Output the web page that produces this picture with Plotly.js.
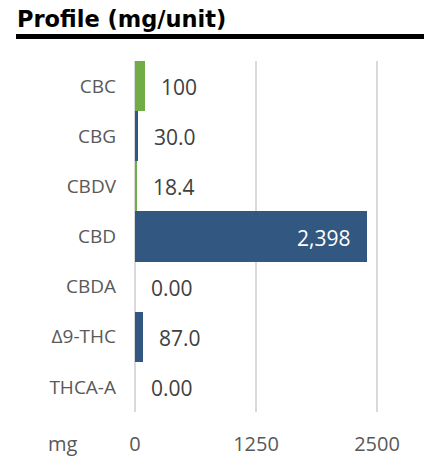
<!DOCTYPE html>
<html>
<head>
<meta charset="utf-8">
<script src="https://cdn.plot.ly/plotly-3.0.1.min.js"></script>
<style>html,body{margin:0;padding:0;background:#fff;}#chart{width:430px;height:457px;}</style>
</head>
<body>
<div id="chart"></div>
<script>
const categories = ["CBC", "CBG", "CBDV", "CBD", "CBDA", "\u03949-THC", "THCA-A"];
const values = [100, 30.0, 18.4, 2398, 0, 87.0, 0];
const valueLabels = ["100", "30.0", "18.4", "2,398", "0.00", "87.0", "0.00"];
const barColors = ["#70AD47", "#325780", "#70AD47", "#325780", "#70AD47", "#325780", "#70AD47"];
const tickValues = [0, 1250, 2500];
const tickLabels = ["0", "1250", "2500"];
const titleText = "Profile (mg/unit)";
const unitText = "mg";

const W = 430, H = 457;
const mL = 135, mR = 43, mT = 61, mB = 45;
const plotW = W - mL - mR, plotH = H - mT - mB;
const pxPerUnit = 121 / 1250;
const xMax = plotW / pxPerUnit;
const px2paperX = p => (p - mL) / plotW;
const px2paperY = p => (H - mB - p) / plotH;

const insideIdx = values.indexOf(Math.max(...values));
const annotations = categories.map((c, i) => {
  const inside = i === insideIdx;
  return {
    x: values[i], y: c, xref: 'x', yref: 'y',
    text: valueLabels[i], showarrow: false,
    xanchor: inside ? 'right' : 'left',
    xshift: inside ? -15 : 14,
    yanchor: 'middle', yshift: -1,
    font: {family: 'Open Sans', size: 21, color: inside ? '#FFFFFF' : '#404040'}
  };
});
annotations.push({
  x: px2paperX(63), y: px2paperY(443), xref: 'paper', yref: 'paper',
  text: unitText, showarrow: false, xanchor: 'center', yanchor: 'middle',
  font: {family: 'Open Sans', size: 20, color: '#595959'}
});

const data = [{
  type: 'bar', orientation: 'h',
  x: values, y: categories,
  marker: {color: barColors, line: {width: 0}},
  hoverinfo: 'none'
}];

const layout = {
  width: W, height: H,
  margin: {l: mL, r: mR, t: mT, b: mB, pad: 0},
  paper_bgcolor: '#fff', plot_bgcolor: '#fff',
  showlegend: false,
  bargap: 0,
  title: {
    text: '<b>' + titleText + '</b>',
    x: 17 / W, xanchor: 'left', xref: 'container',
    y: 1 - 19 / H, yanchor: 'middle', yref: 'container',
    font: {family: 'DejaVu Sans', size: 22.5, color: '#000'}
  },
  xaxis: {
    range: [0, xMax], fixedrange: true,
    tickmode: 'array', tickvals: tickValues, ticktext: tickLabels,
    showgrid: true, gridcolor: '#D9D9D9', gridwidth: 2,
    zeroline: true, zerolinecolor: '#D9D9D9', zerolinewidth: 2,
    showline: false, ticks: '',
    ticklabelstandoff: 18,
    tickfont: {family: 'Open Sans', size: 20, color: '#595959'}
  },
  yaxis: {
    type: 'category', categoryorder: 'array', categoryarray: categories,
    autorange: 'reversed', fixedrange: true,
    showgrid: false, zeroline: false, showline: false, ticks: '',
    ticklabelstandoff: 18,
    tickfont: {family: 'Open Sans', size: 19, color: '#595959'}
  },
  shapes: [{
    type: 'rect', xref: 'paper', yref: 'paper',
    x0: px2paperX(16), x1: px2paperX(424),
    y0: px2paperY(39), y1: px2paperY(34),
    fillcolor: '#000', line: {width: 0}
  }],
  annotations: annotations
};

Plotly.newPlot('chart', data, layout, {displayModeBar: false, staticPlot: true});
</script>
</body>
</html>
